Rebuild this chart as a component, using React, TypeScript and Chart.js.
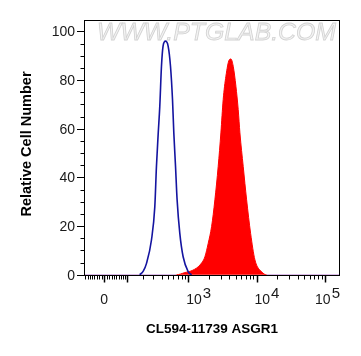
import React, { useEffect, useRef } from "react";
import { Chart, registerables, LinearScale } from "chart.js";

// ---- data (fluorescence intensity vs relative cell count) ----
const controlIntensity = [178, 205, 232, 279, 315, 334, 356, 376, 399, 422, 459, 503, 546, 585, 612, 649, 685, 751, 841, 1000, 1118];
const controlCount = [0, 1.5, 4.7, 14.3, 28, 44.5, 58.3, 69.2, 85.7, 94, 96, 94, 85.7, 72, 58.3, 44.5, 30.8, 17, 7.4, 1.2, 0];

const asgr1Intensity = [-87, 671, 891, 1172, 1483, 1756, 1963, 2201, 2460, 2749, 3011, 3253, 3565, 3984, 4217, 4560, 4993, 5395, 5715, 6388, 7161, 8195, 9476, 11876, 14060, 166000];
const asgr1Count = [0, 0, 0.9, 1.9, 4.0, 7.4, 12.9, 19.8, 30.8, 44.5, 58.3, 72, 81.6, 88.3, 88.7, 85.7, 77.5, 67.9, 58.3, 44.5, 30.8, 17, 6.1, 1.2, 0, 0];

const yTickLabels = [0, 20, 40, 60, 80, 100];
const xLabelValues = [0, 1000, 10000, 100000];
const xLabelExps = ["", "3", "4", "5"];
const xMajorTicks = [0, 100, 1000, 10000, 100000];
const xTitle = "CL594-11739 ASGR1";
const yTitle = "Relative Cell Number";
const watermark = "WWW.PTGLAB.COM";

// ---- biexponential-like display transform ----
const W = 59.3;
const T = (v: number) => Math.log10(W) + Math.asinh(v / (2 * W)) / Math.LN10;
const Tinv = (u: number) => 2 * W * Math.sinh((u - Math.log10(W)) * Math.LN10);

class BiexScale extends LinearScale {
  static id = "biex";
  static defaults = {};
  _tStart = 0;
  _tRange = 1;
  buildTicks() {
    return [{ value: this.min }, { value: this.max }];
  }
  configure() {
    super.configure();
    this._tStart = T(this.min);
    this._tRange = T(this.max) - T(this.min);
  }
  getPixelForValue(v: number) {
    return this.getPixelForDecimal((T(v) - this._tStart) / this._tRange);
  }
  getValueForPixel(p: number) {
    return Tinv(this._tStart + this.getDecimalForPixel(p) * this._tRange);
  }
}

Chart.register(...registerables, BiexScale);

const FONT = '"Liberation Sans", Arial, sans-serif';

function minorXTicks(min: number, max: number) {
  const out: number[] = [];
  for (let k = 1; k <= 9; k++) out.push(-10 * k, 10 * k);
  for (let d = 100; d <= 100000; d *= 10) for (let k = 2; k <= 9; k++) out.push(k * d);
  return out.filter((v) => v >= min && v <= max && !xMajorTicks.includes(v));
}

const decor = {
  id: "decor",
  beforeDatasetsDraw(chart: any) {
    const { ctx, chartArea } = chart;
    ctx.save();
    ctx.font = `italic 24px ${FONT}`;
    const tw = ctx.measureText(watermark).width;
    const left = chartArea.left + 13;
    const width = chartArea.right - 4 - left;
    ctx.translate(left, chartArea.top + 20);
    ctx.scale(width / tw, 1);
    ctx.textBaseline = "alphabetic";
    ctx.fillStyle = "#f3f3f3";
    ctx.fillText(watermark, 0, 0);
    ctx.strokeStyle = "#d2d2d2";
    ctx.lineWidth = 0.8;
    ctx.strokeText(watermark, 0, 0);
    ctx.restore();
  },
  afterDatasetsDraw(chart: any) {
    const { ctx, chartArea } = chart;
    const xs = chart.scales.x;
    const ys = chart.scales.y;
    const { left, right, top, bottom } = chartArea;
    ctx.save();
    ctx.strokeStyle = "#000";
    ctx.lineWidth = 1;
    // frame
    ctx.strokeRect(Math.round(left) + 0.5, Math.round(top) + 0.5, Math.round(right - left) - 1, Math.round(bottom - top) - 1);
    // y ticks
    ctx.beginPath();
    for (let v = 0; v <= 100; v += 5) {
      const y = Math.round(ys.getPixelForValue(v)) + 0.5;
      const len = v % 20 === 0 ? 7 : 3.5;
      ctx.moveTo(left - len, y);
      ctx.lineTo(left, y);
    }
    ctx.stroke();
    ctx.fillStyle = "#1a1a1a";
    ctx.font = `14px ${FONT}`;
    ctx.textAlign = "right";
    ctx.textBaseline = "middle";
    yTickLabels.forEach((v) => ctx.fillText(String(v), left - 9, ys.getPixelForValue(v) + 1));
    // x ticks
    ctx.beginPath();
    const by = Math.round(bottom) - 0.5;
    minorXTicks(xs.min, xs.max).forEach((v) => {
      const x = Math.round(xs.getPixelForValue(v)) + 0.5;
      ctx.moveTo(x, by);
      ctx.lineTo(x, by + 4);
    });
    ctx.stroke();
    ctx.lineWidth = 1.5;
    ctx.beginPath();
    xMajorTicks.forEach((v) => {
      const x = Math.round(xs.getPixelForValue(v)) + 0.5;
      ctx.moveTo(x, by);
      ctx.lineTo(x, by + 7);
    });
    ctx.stroke();
    // x labels
    ctx.textAlign = "left";
    ctx.textBaseline = "alphabetic";
    xLabelValues.forEach((v, i) => {
      const px = xs.getPixelForValue(v);
      const exp = xLabelExps[i];
      ctx.font = `14px ${FONT}`;
      if (!exp) {
        const w0 = ctx.measureText("0").width;
        ctx.fillText("0", px - w0 / 2, bottom + 27.5);
        return;
      }
      const wb = ctx.measureText("10").width;
      ctx.font = `15px ${FONT}`;
      const we = ctx.measureText(exp).width;
      let x0 = px - 2;
      if (x0 + wb + we + 1 > right) x0 = right - wb - we - 1;
      ctx.font = `14px ${FONT}`;
      ctx.fillText("10", x0, bottom + 28);
      ctx.font = `15px ${FONT}`;
      ctx.fillText(exp, x0 + wb + 1, bottom + 22);
    });
    // titles
    ctx.fillStyle = "#000";
    ctx.font = `bold 13.5px ${FONT}`;
    ctx.textAlign = "center";
    ctx.fillText(xTitle, (left + right) / 2, bottom + 57);
    ctx.save();
    ctx.translate(27, (top + bottom) / 2 - 4);
    ctx.rotate(-Math.PI / 2);
    ctx.font = `bold 14.5px ${FONT}`;
    ctx.textBaseline = "middle";
    ctx.fillText(yTitle, 0, 0);
    ctx.restore();
    ctx.restore();
  },
};

export default function App() {
  const ref = useRef<HTMLCanvasElement>(null);
  useEffect(() => {
    if (!ref.current) return;
    const chart = new Chart(ref.current, {
      type: "line",
      data: {
        datasets: [
          {
            label: "Control",
            data: controlIntensity.map((x, i) => ({ x, y: controlCount[i] })),
            borderColor: "#1414a0",
            borderWidth: 1.6,
            fill: false,
            pointRadius: 0,
            cubicInterpolationMode: "monotone",
          },
          {
            label: "ASGR1",
            data: asgr1Intensity.map((x, i) => ({ x, y: asgr1Count[i] })),
            borderColor: "#ff0000",
            backgroundColor: "#ff0000",
            borderWidth: 1,
            fill: "origin",
            pointRadius: 0,
            cubicInterpolationMode: "monotone",
            segment: {
              borderColor: (c: any) => (c.p0.parsed.y > 0 || c.p1.parsed.y > 0 ? "#ff0000" : "rgba(200,150,220,0.9)"),
            },
          },
        ],
      },
      options: {
        responsive: false,
        animation: false,
        devicePixelRatio: 1,
        layout: { padding: { left: 84, top: 20, right: 21, bottom: 80 } },
        plugins: { legend: { display: false }, tooltip: { enabled: false } },
        scales: {
          x: { type: "biex", min: -87, max: 166000, display: false },
          y: { type: "linear", min: -0.5, max: 104.7, display: false },
        },
      },
      plugins: [decor],
    } as any);
    return () => chart.destroy();
  }, []);
  return (
    <canvas
      ref={ref}
      width={361}
      height={356}
      style={{ position: "absolute", left: 0, top: 0, width: 361, height: 356 }}
    />
  );
}
